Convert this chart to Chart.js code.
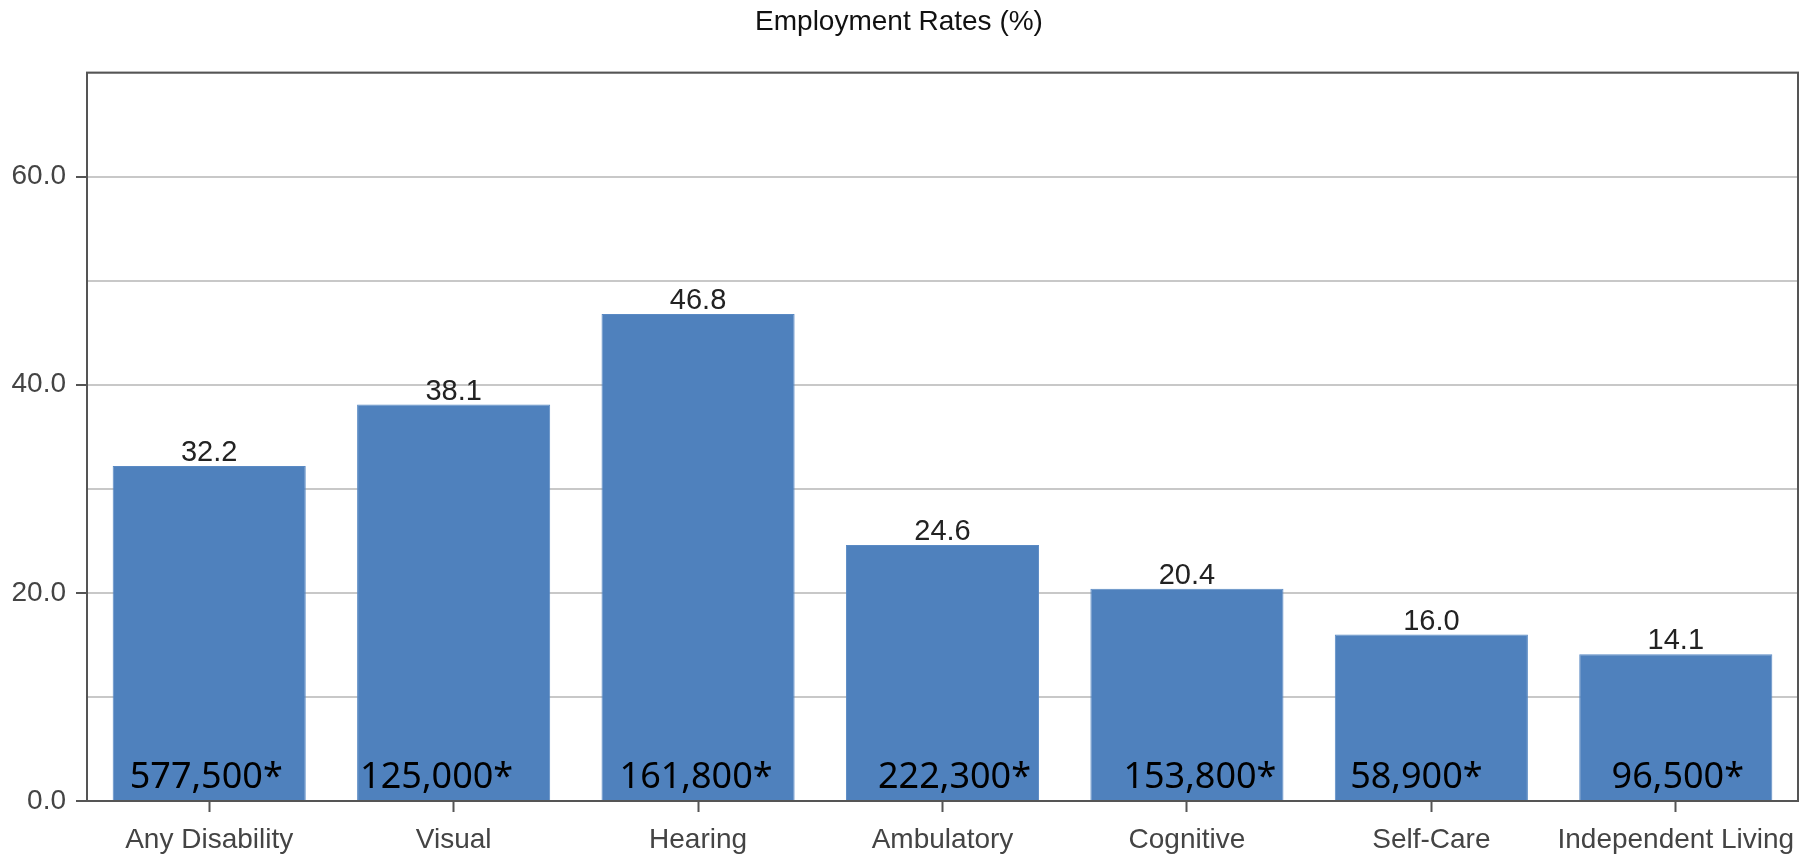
<!DOCTYPE html>
<html>
<head>
<meta charset="utf-8">
<script src="https://cdn.jsdelivr.net/npm/chart.js@4"></script>
<style>
  html, body { margin: 0; padding: 0; background: #fff; }
  #wrap { width: 1806px; height: 865px; }
</style>
</head>
<body>
<div id="wrap"><canvas id="rates"></canvas></div>
<script>
// data
const categories = ['Any Disability', 'Visual', 'Hearing', 'Ambulatory', 'Cognitive', 'Self-Care', 'Independent Living'];
const rates = [32.2, 38.1, 46.8, 24.6, 20.4, 16.0, 14.1];
const counts = ['577,500*', '125,000*', '161,800*', '222,300*', '153,800*', '58,900*', '96,500*'];
const tickLabels = ['0.0', '20.0', '40.0', '60.0'];

const AXIS_FONT = 'Liberation Sans, Arial, sans-serif';

// value on top of each bar + the big count near the bottom
const barLabels = {
  id: 'barLabels',
  afterDatasetsDraw(chart, args, opts) {
    const ctx = chart.ctx;
    const meta = chart.getDatasetMeta(0);
    const base = chart.scales.y.getPixelForValue(0);
    ctx.save();
    meta.data.forEach((bar, i) => {
      ctx.fillStyle = '#222';
      ctx.font = '29px ' + AXIS_FONT;
      ctx.textAlign = 'center';
      ctx.textBaseline = 'alphabetic';
      ctx.fillText(rates[i].toFixed(1), bar.x, bar.y - 5);

      ctx.fillStyle = '#000';
      ctx.font = '36px "Noto Sans", "Open Sans", sans-serif';
      ctx.fillText(counts[i], bar.x + opts.shift[i], base - 13);
    });
    ctx.restore();
  }
};

// dark frame round the plot area
const frame = {
  id: 'frame',
  afterDraw(chart) {
    const a = chart.chartArea;
    const ctx = chart.ctx;
    ctx.save();
    ctx.strokeStyle = '#555';
    ctx.lineWidth = 2;
    ctx.strokeRect(a.left, a.top, a.right - a.left, a.bottom - a.top);
    ctx.restore();
  }
};

new Chart(document.getElementById('rates'), {
  type: 'bar',
  data: {
    labels: categories,
    datasets: [{
      data: rates,
      backgroundColor: '#4f81bd',
      borderColor: '#5a8ac4',
      borderWidth: 1,
      categoryPercentage: 0.79,
      barPercentage: 1.0
    }]
  },
  options: {
    responsive: true,
    maintainAspectRatio: false,
    animation: false,
    layout: { padding: { left: 0, right: 8, top: 0, bottom: 0 } },
    plugins: {
      legend: { display: false },
      tooltip: { enabled: false },
      title: {
        display: true,
        text: 'Employment Rates (%)',
        color: '#111',
        font: { family: AXIS_FONT, size: 28, weight: 'normal' },
        padding: { top: 5, bottom: 34 }
      },
      barLabels: { shift: [-3, -17, -2, 12, 13, -15, 2] }
    },
    scales: {
      x: {
        grid: {
          offset: false,
          drawOnChartArea: false,
          tickLength: 11,
          tickColor: '#555',
          tickWidth: 2
        },
        border: { display: false },
        ticks: {
          color: '#444',
          padding: 11,
          maxRotation: 0,
          font: { family: AXIS_FONT, size: 28 }
        },
        afterFit(scale) { scale.height = 64; }
      },
      y: {
        min: 0,
        max: 70,
        grid: {
          color: '#c8c8c8',
          lineWidth: 2,
          tickLength: 11,
          tickColor: ctx => (ctx.tick && ctx.tick.value % 20 === 0 ? '#555' : 'rgba(0,0,0,0)'),
          tickWidth: 2
        },
        border: { display: false },
        ticks: {
          stepSize: 10,
          color: '#444',
          padding: 10,
          font: { family: AXIS_FONT, size: 28 },
          callback: v => {
            const t = tickLabels.find(s => parseFloat(s) === v);
            return t || '';
          }
        },
        afterFit(scale) { scale.width = 87; }
      }
    }
  },
  plugins: [barLabels, frame]
});
</script>
</body>
</html>
